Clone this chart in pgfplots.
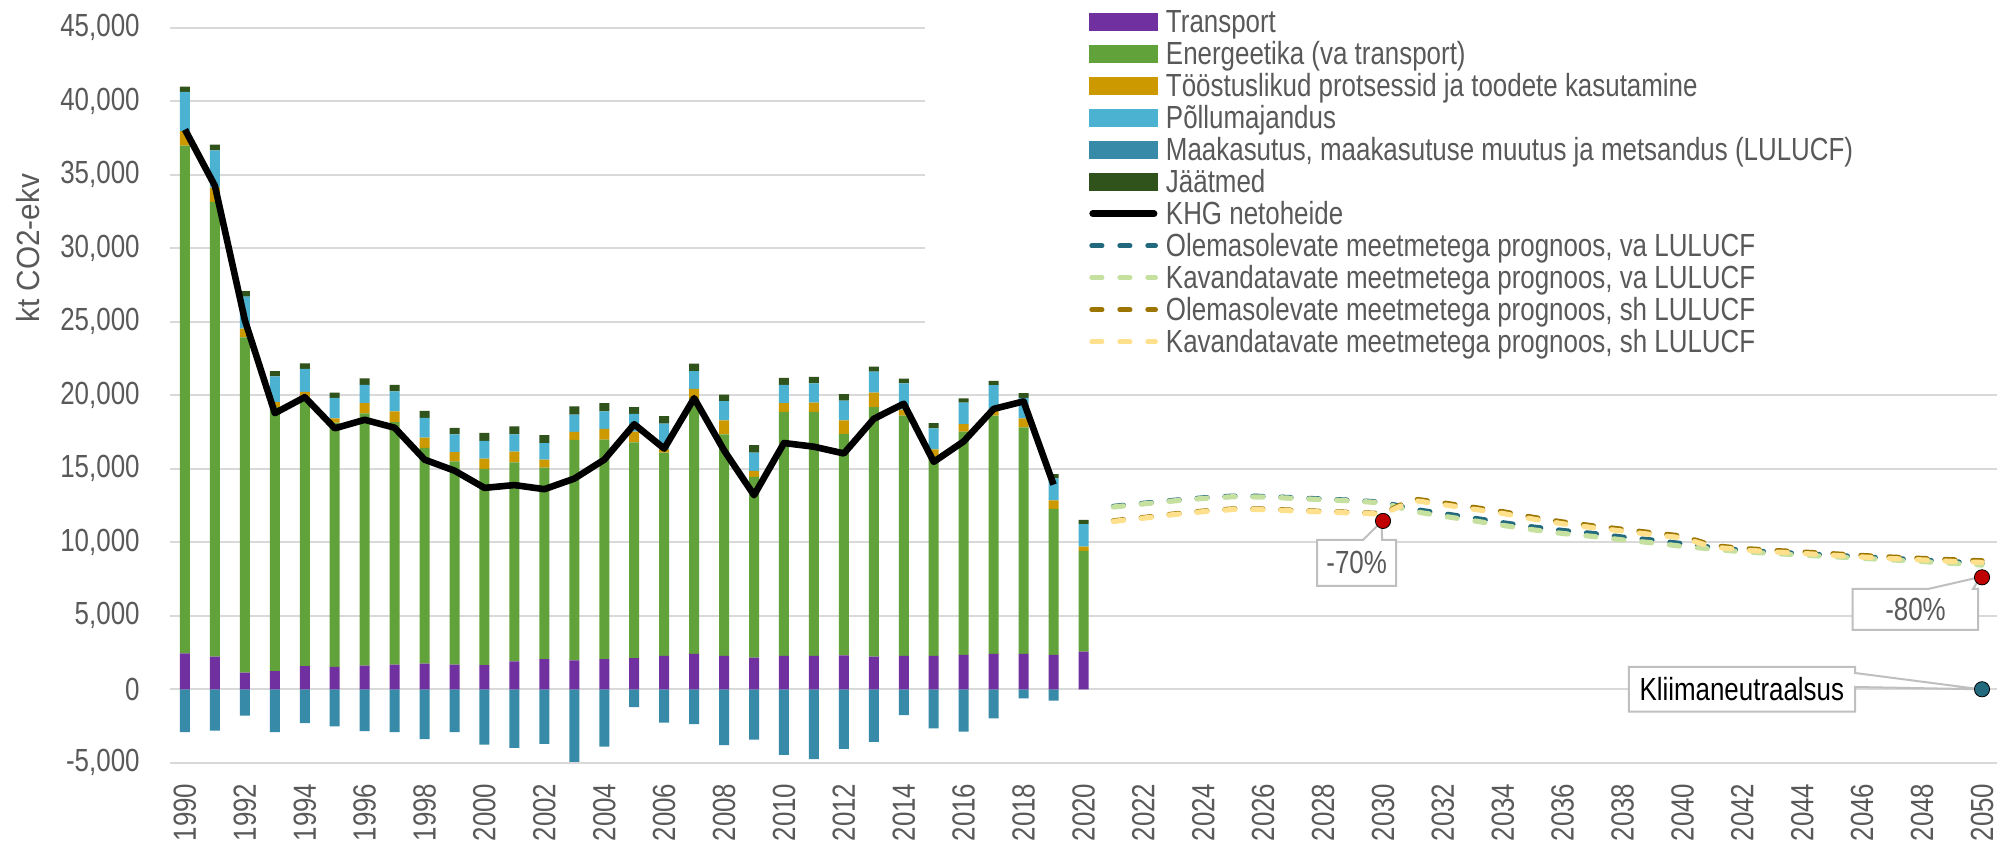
\documentclass[border=0pt]{standalone}
\usepackage{fontspec}
\setmainfont[FakeStretch=0.81]{Liberation Sans}
\newfontfamily\ylfont[FakeStretch=0.93]{Liberation Sans}
\usepackage{pgfplots}
\usepackage{pgfplotstable}
\pgfplotsset{compat=1.18}
\definecolor{ctrans}{HTML}{7030A0}
\definecolor{cener}{HTML}{62A23A}
\definecolor{cind}{HTML}{CC9900}
\definecolor{cagri}{HTML}{4BB2D2}
\definecolor{clulu}{HTML}{378BA8}
\definecolor{cwaste}{HTML}{30521B}
\definecolor{cteal}{HTML}{22697E}
\definecolor{cgreen}{HTML}{C6E0A0}
\definecolor{cbrown}{HTML}{9C7500}
\definecolor{cyellow}{HTML}{FFE08C}
\definecolor{cgrid}{HTML}{D9D9D9}
\definecolor{ctext}{HTML}{595959}
\definecolor{cbox}{HTML}{BFBFBF}
\definecolor{cred}{HTML}{C00000}
\definecolor{cneut}{HTML}{236A7F}

\pgfplotstableread{
year T E I A W L N
1990 2450 34530 985 2665 365 -2920 38070
1991 2230 30915 985 2520 400 -2810 34240
1992 1130 22810 585 2190 365 -1790 25100
1993 1240 17960 330 1750 365 -2920 18780
1994 1570 18290 365 1570 365 -2300 19870
1995 1530 16610 290 1390 365 -2520 17750
1996 1610 17155 695 1240 440 -2850 18330
1997 1680 16500 730 1350 440 -2920 17790
1998 1750 14670 695 1350 475 -3395 15620
1999 1680 13830 620 1205 440 -2920 14870
2000 1640 13360 695 1205 545 -3760 13700
2001 1900 13540 730 1170 545 -3980 13890
2002 2045 13030 545 1130 545 -3720 13610
2003 1970 15000 545 1170 550 -4930 14330
2004 2045 14930 730 1205 550 -3905 15620
2005 2115 14675 730 1205 475 -1205 18030
2006 2265 13835 220 1750 510 -2265 16370
2007 2410 17410 620 1205 510 -2375 19800
2008 2265 15075 950 1315 440 -3795 16250
2009 2155 12300 400 1240 510 -3430 13200
2010 2265 16610 585 1240 475 -4455 16750
2011 2265 16610 620 1315 440 -4745 16500
2012 2300 15075 915 1350 440 -4050 16040
2013 2230 16970 985 1425 330 -3575 18400
2014 2265 16350 400 1790 330 -1750 19420
2015 2265 13505 550 1425 365 -2665 15470
2016 2335 15185 510 1460 290 -2885 16860
2017 2410 16205 330 1750 290 -1970 19070
2018 2410 15405 620 1385 330 -620 19580
2019 2335 9930 585 1500 290 -765 13920
2020 2555 6860 290 1535 290 0 nan
}\hist

\pgfplotstableread{
year teal green brown yellow
2021 12440 12400 11460 11420
2022 12650 12610 11680 11640
2023 12850 12810 11920 11880
2024 13020 12980 12120 12080
2025 13140 13100 12270 12230
2026 13120 13080 12260 12220
2027 13030 12990 12180 12140
2028 12940 12900 12100 12060
2029 12850 12810 12030 11990
2030 12720 12680 11950 11910
2031 12250 12100 12950 12850
2032 11950 11780 12680 12560
2033 11650 11470 12380 12260
2034 11330 11150 12080 11960
2035 11040 10850 11700 11580
2036 10800 10600 11380 11260
2037 10600 10400 11120 11000
2038 10350 10160 10880 10760
2039 10150 9960 10640 10520
2040 9900 9720 10420 10300
2041 9650 9540 9780 9680
2042 9450 9350 9580 9480
2043 9340 9240 9450 9350
2044 9230 9130 9340 9240
2045 9120 9020 9220 9120
2046 9010 8910 9100 9000
2047 8900 8800 8990 8890
2048 8800 8690 8900 8800
2049 8680 8570 8810 8700
2050 8560 8450 8740 8630
}\proj

\pgfplotsset{
  base/.style={scale only axis, width=913.5bp, height=367.55bp,
    at={(85bp,39.6bp)}, anchor=south west,
    xmin=1989.5, xmax=2050.5, ymin=-5000, ymax=45000},
}
\tikzset{dline/.style={line width=2.6bp, line cap=round, dash pattern=on 5bp off 9bp}}
\newcommand{\tf}{\fontsize{16bp}{16bp}\selectfont}

\begin{document}
\begin{tikzpicture}
\path[use as bounding box] (0,0) rectangle (1004bp,421bp);

% Axis 1: grid, ticks, LULUCF bars
\begin{axis}[base,
  axis line style={draw=none}, tick style={draw=none},
  scaled y ticks=false, scaled x ticks=false,
  ymajorgrids, grid style={cgrid, line width=1bp},
  ytick={-5000,0,5000,10000,15000,20000,25000,30000,35000,40000,45000},
  yticklabels={{-5,000},{0},{5,000},{10,000},{15,000},{20,000},{25,000},{30,000},{35,000},{40,000},{45,000}},
  xtick={1990,1992,...,2050},
  /pgf/number format/1000 sep={},
  /pgf/number format/assume math mode=true,
  tick label style={font=\tf, text=ctext},
  xticklabel style={rotate=90, anchor=east, inner sep=0pt},
  yticklabel style={anchor=east, inner sep=0pt},
  xticklabel shift=10.25bp, yticklabel shift=15bp,
  ylabel={kt CO2-ekv},
  ylabel style={at={(rel axis cs:-0.0777,0.70)}, anchor=center, font=\ylfont\tf, text=ctext},
]
\fill[white] (axis cs:2014.7,22000) rectangle (axis cs:2051,46000);
\addplot[ybar, bar width=5bp, bar shift=0pt, fill=clulu, draw=none] table[x=year, y=L] {\hist};
\end{axis}

% Axis 2: stacked positive bars
\begin{axis}[base, hide axis, ybar stacked, bar width=5bp]
\addplot[fill=ctrans, draw=none] table[x=year, y=T] {\hist};
\addplot[fill=cener, draw=none] table[x=year, y=E] {\hist};
\addplot[fill=cind, draw=none] table[x=year, y=I] {\hist};
\addplot[fill=cagri, draw=none] table[x=year, y=A] {\hist};
\addplot[fill=cwaste, draw=none] table[x=year, y=W] {\hist};
\end{axis}

% Axis 3: lines, markers, callouts, legend
\begin{axis}[base, hide axis, clip=false,
  legend cell align=left,
  legend style={at={(rel axis cs:0.503,1.0299)}, anchor=north west,
    draw=none, fill=none, inner sep=0pt, outer sep=0pt,
    row sep=0pt, column sep=4bp, font=\tf,
    nodes={inner sep=0pt, text height=13.4bp, text depth=2.6bp, text=ctext}},
]
\addplot[black, line width=3.3bp, line join=round, forget plot] table[x=year, y=N] {\hist};
\addplot[cteal, dline, forget plot] table[x=year, y=teal] {\proj};
\addplot[cgreen, dline, forget plot] table[x=year, y=green] {\proj};
\addplot[cbrown, dline, forget plot] table[x=year, y=brown] {\proj};
\addplot[cyellow, dline, forget plot] table[x=year, y=yellow] {\proj};

% callouts
\draw[cbox, line width=1bp, fill=white]
  (axis cs:2027.80,10157) -- (axis cs:2029.33,10157) -- (axis cs:2029.95,11400)
  -- (axis cs:2029.97,10157) -- (axis cs:2030.44,10157) -- (axis cs:2030.44,7028)
  -- (axis cs:2027.80,7028) -- cycle;
\node[text=ctext, font=\tf, inner sep=0pt] at (axis cs:2029.12,8592) {-70\%};
\draw[cbox, line width=1bp, fill=white]
  (axis cs:2045.68,6823) -- (axis cs:2048.2,6823) -- (axis cs:2049.95,7640)
  -- (axis cs:2049.7,6823) -- (axis cs:2049.87,6823) -- (axis cs:2049.87,4034)
  -- (axis cs:2045.68,4034) -- cycle;
\node[text=ctext, font=\tf, inner sep=0pt] at (axis cs:2047.78,5429) {-80\%};
\draw[cbox, line width=1bp, fill=white]
  (axis cs:2038.21,1517) -- (axis cs:2045.76,1517) -- (axis cs:2045.76,1109)
  -- (axis cs:2049.95,0) -- (axis cs:2045.76,156) -- (axis cs:2045.76,-1517)
  -- (axis cs:2038.21,-1517) -- cycle;
\node[text=black, font=\tf, inner sep=0pt] at (axis cs:2041.98,0) {Kliimaneutraalsus};

\addplot[only marks, mark=*, mark size=3.8bp, mark options={fill=cred, draw=none}, forget plot]
  coordinates {(2030,11450) (2050,7615)};
\addplot[only marks, mark=*, mark size=3.8bp, mark options={fill=cneut, draw=none}, forget plot]
  coordinates {(2050,0)};

% legend
\addlegendimage{legend image code/.code={\fill[ctrans] (0bp,-4.2bp) rectangle (34bp,4.2bp);}}
\addlegendentry{Transport}
\addlegendimage{legend image code/.code={\fill[cener] (0bp,-4.2bp) rectangle (34bp,4.2bp);}}
\addlegendentry{Energeetika (va transport)}
\addlegendimage{legend image code/.code={\fill[cind] (0bp,-4.2bp) rectangle (34bp,4.2bp);}}
\addlegendentry{Tööstuslikud protsessid ja toodete kasutamine}
\addlegendimage{legend image code/.code={\fill[cagri] (0bp,-4.2bp) rectangle (34bp,4.2bp);}}
\addlegendentry{Põllumajandus}
\addlegendimage{legend image code/.code={\fill[clulu] (0bp,-4.2bp) rectangle (34bp,4.2bp);}}
\addlegendentry{Maakasutus, maakasutuse muutus ja metsandus (LULUCF)}
\addlegendimage{legend image code/.code={\fill[cwaste] (0bp,-4.2bp) rectangle (34bp,4.2bp);}}
\addlegendentry{Jäätmed}
\addlegendimage{legend image code/.code={\draw[black, line width=3.3bp, line cap=round] (1.65bp,0) -- (32.35bp,0);}}
\addlegendentry{KHG netoheide}
\addlegendimage{legend image code/.code={\draw[cteal, dline] (1.25bp,0) -- (33bp,0);}}
\addlegendentry{Olemasolevate meetmetega prognoos, va LULUCF}
\addlegendimage{legend image code/.code={\draw[cgreen, dline] (1.25bp,0) -- (33bp,0);}}
\addlegendentry{Kavandatavate meetmetega prognoos, va LULUCF}
\addlegendimage{legend image code/.code={\draw[cbrown, dline] (1.25bp,0) -- (33bp,0);}}
\addlegendentry{Olemasolevate meetmetega prognoos, sh LULUCF}
\addlegendimage{legend image code/.code={\draw[cyellow, dline] (1.25bp,0) -- (33bp,0);}}
\addlegendentry{Kavandatavate meetmetega prognoos, sh LULUCF}
\end{axis}
\end{tikzpicture}
\end{document}
